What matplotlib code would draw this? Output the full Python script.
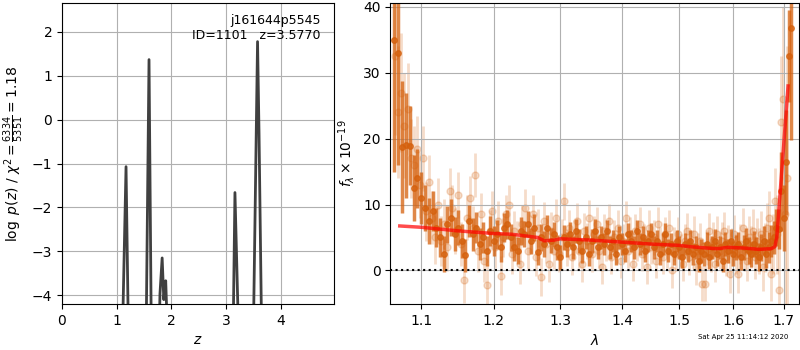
import numpy as np
import matplotlib
matplotlib.use('Agg')
import matplotlib.pyplot as plt
from matplotlib.ticker import FixedLocator, FixedFormatter, NullLocator

# --- p(z) -------------------------------------------------------------------
Z_GRID = [0.00, 1.10, 1.11, 1.17, 1.21, 1.22, 1.53, 1.54, 1.59, 1.63, 1.64,
          1.77, 1.78, 1.79, 1.83, 1.86, 1.895, 1.92, 1.93, 3.12, 3.13, 3.16,
          3.22, 3.23, 3.49, 3.50, 3.573, 3.60, 3.645, 3.66, 4.97]
LOGPZ = [-12.0, -12.0, -4.6, -1.07, -4.6, -12.0, -12.0, -4.6, 1.37, -4.6, -12.0,
         -12.0, -4.6, -3.97, -3.15, -4.1, -3.67, -4.6, -12.0, -12.0, -4.6, -1.66,
         -4.6, -12.0, -12.0, -4.6, 1.78, -0.3, -4.6, -12.0, -12.0]

ROOT = 'j161644p5545'
OBJ_ID = 1101
Z_BEST = 3.5770
CHI2, NDOF = 6334, 5351

# --- 1D spectrum, two extractions ----------------------------------------------
# fainter extraction: start wavelength and pixel step (um)
LAM0_A, DLAM_A = 1.066, 0.004
FLUX_A = [32.5, 24.0, 27.0, 22.0, 24.5, 17.0, 16.0, 18.5, 13.0, 17.0,
          9.0, 13.5, 8.0, 5.0, 10.0, 4.5, 7.0, 3.5, 12.0, 9.5,
          6.0, 11.5, 4.0, -1.5, 8.0, 11.0, 6.5, 14.5, 3.0, 8.5,
          1.5, -2.2, 6.0, 9.0, 3.5, 7.5, -0.8, 5.0, 8.5, 10.0,
          2.5, 6.0, 4.5, 1.0, 7.0, 9.5, 3.0, 5.5, 8.5, 2.0,
          6.5, -1.0, 7.5, 4.0, 1.0, 6.0, 3.0, 8.0, 2.5, 5.0,
          10.5, 3.5, 6.5, 2.0, 5.0, 7.5, 3.0, 1.0, 6.0, 4.5,
          8.0, 2.5, 5.5, 7.0, 3.0, 0.5, 6.0, 4.0, 7.5, 2.0,
          5.0, 3.5, 6.5, 1.5, 4.5, 8.0, 3.0, 5.5, 1.0, 6.0,
          4.0, 7.0, 2.5, 4.5, 0.5, 6.5, 3.5, 5.0, 1.5, 7.0,
          4.0, 2.0, 5.5, 3.0, 6.5, 0.0, 4.0, 2.5, 5.5, 3.0,
          1.0, 4.5, 6.0, 2.0, 3.5, 5.5, 0.5, 3.0, 4.5, -2.0,
          -2.0, 3.5, 6.0, 2.5, 4.5, 1.0, 5.5, 3.0, 4.5, 6.0,
          2.0, 4.0, -0.5, 3.5, 5.5, 2.5, -0.5, 4.0, 6.5, 3.0,
          1.5, 5.0, 3.5, 6.0, 2.0, 4.5, 3.0, 5.5, 0.5, 3.5,
          6.5, 8.0, -0.5, 4.0, 10.5, 5.5, -3.0, 22.5, 26.0, 8.5,
          14.0]
ERR_A = [12.0, 10.0, 9.0, 8.0, 7.0, 6.0, 6.0, 5.0, 5.0, 5.0,
         4.5, 4.0, 4.0, 4.0, 4.0, 3.8, 3.8, 3.6, 3.6, 3.5,
         3.5, 3.5, 3.4, 3.4, 3.4, 3.3, 3.3, 3.3, 3.2, 3.2,
         3.2, 3.2, 3.1, 3.1, 3.1, 3.1, 3.0, 3.0, 3.0, 3.0,
         3.0, 3.0, 3.0, 3.0, 3.0, 2.9, 2.9, 2.9, 2.9, 2.9,
         2.9, 2.9, 2.9, 2.8, 2.8, 2.8, 2.8, 2.8, 2.8, 2.8,
         2.8, 2.8, 2.7, 2.7, 2.7, 2.7, 2.7, 2.7, 2.7, 2.7,
         2.7, 2.7, 2.7, 2.6, 2.6, 2.6, 2.6, 2.6, 2.6, 2.6,
         2.6, 2.6, 2.6, 2.6, 2.6, 2.6, 2.6, 2.6, 2.6, 2.6,
         2.6, 2.6, 2.6, 2.6, 2.6, 2.6, 2.6, 2.6, 2.6, 2.6,
         2.6, 2.6, 2.6, 2.6, 2.6, 2.6, 2.6, 2.6, 2.6, 2.6,
         2.6, 2.6, 2.7, 2.7, 2.7, 2.7, 2.7, 2.7, 2.7, 2.7,
         2.7, 2.7, 2.7, 2.7, 2.8, 2.8, 2.8, 2.8, 2.8, 2.8,
         2.8, 2.9, 2.9, 2.9, 2.9, 3.0, 3.0, 3.0, 3.0, 3.1,
         3.1, 3.2, 3.2, 3.3, 3.3, 3.4, 3.5, 3.5, 3.6, 3.7,
         3.8, 4.0, 4.2, 4.5, 5.0, 6.0, 8.0, 10.0, 14.0, 16.0,
         20.0]

# brighter extraction
LAM0_B, DLAM_B = 1.065, 0.005
FLUX_B = [35.0, 33.0, 18.7, 19.0, 18.9, 12.5, 14.0, 11.0, 9.5, 7.5,
          9.0, 6.5, 5.0, 2.5, 7.0, 8.0, 5.5, 6.5, 4.5, 2.3,
          7.5, 5.5, 6.5, 4.0, 5.0, 3.0, 6.0, 4.5, 5.5, 3.5,
          6.5, 7.0, 5.0, 3.5, 3.0, 6.0, 5.5, 7.0, 4.5, 6.5,
          2.8, 5.0, 4.0, 6.5, 4.5, 5.5, 3.5, 2.0, 5.0, 4.0,
          5.5, 3.5, 6.0, 4.5, 3.0, 5.0, 2.5, 4.5, 6.0, 3.5,
          5.0, 4.0, 6.0, 3.5, 4.5, 2.5, 5.0, 4.0, 3.0, 5.5,
          4.5, 3.5, 6.0, 4.0, 5.0, 3.0, 4.5, 5.5, 3.5, 4.5,
          2.5, 4.0, 5.5, 3.0, 4.0, 2.5, 4.5, 3.5, 2.0, 4.0,
          3.0, 4.5, 2.5, 3.5, 1.5, 3.0, 2.5, 4.0, 2.0, 3.5,
          4.5, 2.5, 3.5, 1.5, 4.0, 3.0, 4.5, 2.5, 3.5, 4.0,
          2.0, 3.5, 4.5, 3.0, 2.5, 4.0, 3.0, 2.0, 3.5, 4.5,
          2.5, 3.5, 4.5, 5.0, 6.5, 6.3, 12.0, 8.0, 16.4, 32.6,
          36.8]
ERR_B = [20.0, 17.0, 10.0, 8.0, 6.0, 5.0, 4.5, 4.0, 3.5, 3.5,
         3.0, 3.0, 3.0, 2.8, 2.8, 2.8, 2.6, 2.6, 2.6, 2.5,
         2.5, 2.5, 2.4, 2.4, 2.4, 2.3, 2.3, 2.3, 2.2, 2.2,
         2.2, 2.2, 2.1, 2.1, 2.1, 2.1, 2.0, 2.0, 2.0, 2.0,
         2.0, 2.0, 2.0, 1.9, 1.9, 1.9, 1.9, 1.9, 1.9, 1.9,
         1.8, 1.8, 1.8, 1.8, 1.8, 1.8, 1.8, 1.8, 1.8, 1.8,
         1.7, 1.7, 1.7, 1.7, 1.7, 1.7, 1.7, 1.7, 1.7, 1.7,
         1.7, 1.7, 1.7, 1.7, 1.7, 1.7, 1.7, 1.7, 1.7, 1.7,
         1.7, 1.7, 1.7, 1.7, 1.7, 1.7, 1.7, 1.7, 1.7, 1.7,
         1.7, 1.7, 1.7, 1.7, 1.7, 1.8, 1.8, 1.8, 1.8, 1.8,
         1.8, 1.8, 1.8, 1.8, 1.8, 1.8, 1.8, 1.9, 1.9, 1.9,
         1.9, 1.9, 1.9, 2.0, 2.0, 2.0, 2.0, 2.1, 2.1, 2.2,
         2.2, 2.3, 2.4, 2.5, 2.8, 3.0, 6.0, 5.0, 8.0, 7.0,
         17.0]

# best-fit template, continuum + Lyman break
MODEL_LAM = [1.072, 1.10, 1.15, 1.20, 1.225, 1.25, 1.265, 1.275, 1.29, 1.30,
             1.35, 1.40, 1.45, 1.50, 1.52, 1.55, 1.57, 1.59, 1.62, 1.65,
             1.675, 1.682, 1.686, 1.690, 1.695, 1.700, 1.705, 1.709]
MODEL_FLUX = [6.75, 6.55, 6.0, 5.6, 5.5, 5.2, 5.0, 4.5, 4.6, 4.8,
              4.6, 4.3, 4.0, 3.8, 3.6, 3.4, 3.3, 3.5, 3.4, 3.2,
              3.3, 3.6, 5.0, 9.0, 14.0, 19.0, 24.0, 28.0]

LAM_TICKS = [1.1, 1.2, 1.3, 1.4, 1.5, 1.6, 1.7]
STAMP = 'Sat Apr 25 11:14:12 2020'

ORANGE = '#d5600c'

lam_a = LAM0_A + DLAM_A * np.arange(len(FLUX_A))
lam_b = LAM0_B + DLAM_B * np.arange(len(FLUX_B))

fig = plt.figure(figsize=(8, 3.5), dpi=100)
ax1 = fig.add_axes([0.0775, 0.1314, 0.340, 0.860])
ax2 = fig.add_axes([0.4880, 0.1314, 0.5110, 0.860])

# left: log p(z)
ax1.plot(Z_GRID, LOGPZ, color='0.25', lw=2)
ax1.set_xlim(0, 4.97)
ax1.set_ylim(-4.2, 2.66)
ax1.set_xticks([0, 1, 2, 3, 4])
ax1.set_yticks([-4, -3, -2, -1, 0, 1, 2])
ax1.grid(True)
ax1.set_xlabel('$z$')
ax1.set_ylabel(r'$\log\ p(z)$' + ' / ' +
               r'$\chi^2=\frac{%d}{%d}=%.2f$' % (CHI2, NDOF, CHI2 / NDOF))
ax1.text(0.95, 0.965, '%s\nID=%d   z=%.4f' % (ROOT, OBJ_ID, Z_BEST),
         transform=ax1.transAxes, ha='right', va='top', fontsize=9)

# right: spectrum
ax2.errorbar(lam_a, FLUX_A, yerr=ERR_A, fmt='o', color=ORANGE, ms=5,
             elinewidth=2, alpha=0.22, zorder=1)
ax2.errorbar(lam_b, FLUX_B, yerr=ERR_B, fmt='o', color=ORANGE, ms=4,
             elinewidth=2.5, alpha=0.75, zorder=2)
ax2.plot(MODEL_LAM, MODEL_FLUX, color='red', lw=2.5, alpha=0.7, zorder=3)
ax2.axhline(0, color='k', ls=':', lw=1.5, zorder=4)

ax2.set_xscale('log')
ax2.set_xlim(1.060, 1.732)
ax2.set_ylim(-5.1, 40.6)
ax2.xaxis.set_major_locator(FixedLocator(LAM_TICKS))
ax2.xaxis.set_major_formatter(FixedFormatter(['%.1f' % t for t in LAM_TICKS]))
ax2.xaxis.set_minor_locator(NullLocator())
ax2.set_yticks([0, 10, 20, 30, 40])
ax2.grid(True)
ax2.set_xlabel(r'$\lambda$')
ax2.set_ylabel(r'$f_\lambda \times 10^{-19}$')

fig.text(0.985, 0.03, STAMP, ha='right', va='bottom', fontsize=5)

fig.savefig('out.png', dpi=100)
